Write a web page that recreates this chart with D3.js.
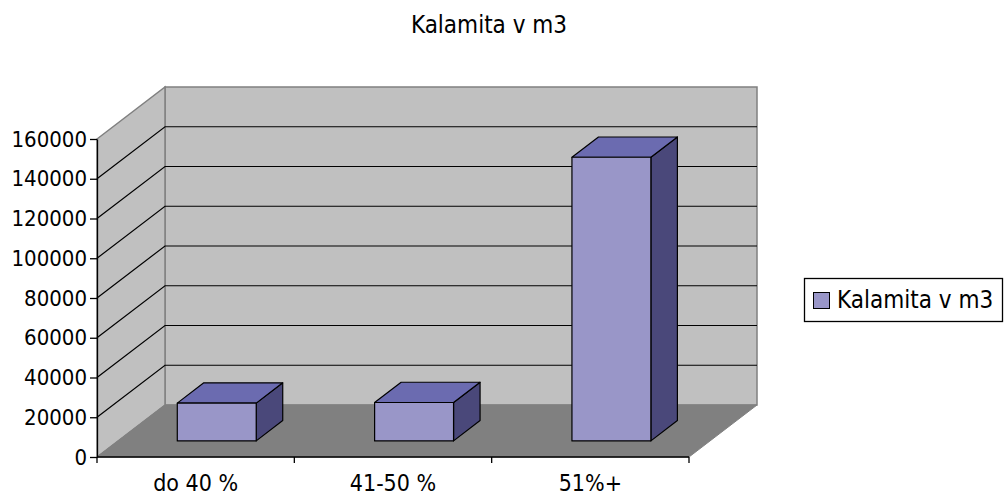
<!DOCTYPE html>
<html>
<head>
<meta charset="utf-8">
<script src="https://cdn.jsdelivr.net/npm/d3@7"></script>
<style>
  body { margin: 0; background: #fff; }
  text { font-family: "DejaVu Sans Condensed", "DejaVu Sans", sans-serif; font-stretch: condensed; fill: #000; }
</style>
</head>
<body>
<div id="graph"></div>
<script>
// chart data
var title = "Kalamita v m3";
var seriesName = "Kalamita v m3";
var categories = ["do 40 %", "41-50 %", "51%+"];
var values = [19000, 19300, 142700];
var yTicks = [0, 20000, 40000, 60000, 80000, 100000, 120000, 140000, 160000];

var w = 1005, h = 500;

// depth of the 3d box (offset of the back wall)
var DX = 68, DY = -52;
var barD0 = 0.31, barD1 = 0.70; // bar front / back as fraction of depth

var svg = d3.select("#graph").append("svg")
    .attr("width", w).attr("height", h);

var xScale = d3.scaleBand().domain(categories).range([97, 689]).padding(0);
var yScale = d3.scaleLinear().domain([0, 160000]).range([457, 139]);
var bw = xScale.bandwidth();

function pt(x, y, d) { return [x + DX * d, y + DY * d]; }
function poly(pts) { return "M" + pts.map(function(p){ return p.join(","); }).join("L") + "Z"; }

var x0 = xScale.range()[0], x1 = xScale.range()[1];
var y0 = yScale(0), yMax = yScale(160000);

// back wall
svg.append("path")
    .attr("d", poly([pt(x0, yMax, 1), pt(x1, yMax, 1), pt(x1, y0, 1), pt(x0, y0, 1)]))
    .attr("fill", "#c0c0c0").attr("stroke", "#808080").attr("stroke-width", 1.5);
// side wall
svg.append("path")
    .attr("d", poly([pt(x0, yMax, 0), pt(x0, yMax, 1), pt(x0, y0, 1), pt(x0, y0, 0)]))
    .attr("fill", "#c0c0c0").attr("stroke", "#808080").attr("stroke-width", 1.5);
// floor
svg.append("path")
    .attr("d", poly([pt(x0, y0, 0), pt(x0, y0, 1), pt(x1, y0, 1), pt(x1, y0, 0)]))
    .attr("fill", "#808080").attr("stroke", "#808080");

// gridlines on back and side walls
var inner = yTicks.filter(function(t){ return t > 0 && t < 160000; });
svg.selectAll("path.grid")
    .data(inner).enter().append("path")
    .attr("class", "grid")
    .attr("d", function(t){
      var y = yScale(t);
      return "M" + pt(x0, y, 0).join(",") + "L" + pt(x0, y, 1).join(",") + "L" + pt(x1, y, 1).join(",");
    })
    .attr("fill", "none").attr("stroke", "#000").attr("stroke-width", 1.2);

// bars
var bars = svg.selectAll("g.bar")
    .data(values).enter().append("g").attr("class", "bar");

function barX(i) { return xScale(categories[i]) + bw * 0.3; }

bars.append("path") // side
    .attr("d", function(d, i){
      var a = barX(i) + bw * 0.4, yt = yScale(d);
      return poly([pt(a, yt, barD0), pt(a, yt, barD1), pt(a, y0, barD1), pt(a, y0, barD0)]);
    })
    .attr("fill", "#4a487a").attr("stroke", "#000").attr("stroke-width", 1.2).attr("stroke-linejoin", "round");
bars.append("path") // top
    .attr("d", function(d, i){
      var a = barX(i), b = a + bw * 0.4, yt = yScale(d);
      return poly([pt(a, yt, barD0), pt(a, yt, barD1), pt(b, yt, barD1), pt(b, yt, barD0)]);
    })
    .attr("fill", "#6b6bb0").attr("stroke", "#000").attr("stroke-width", 1.2).attr("stroke-linejoin", "round");
bars.append("path") // front
    .attr("d", function(d, i){
      var a = barX(i), b = a + bw * 0.4, yt = yScale(d);
      return poly([pt(a, yt, barD0), pt(b, yt, barD0), pt(b, y0, barD0), pt(a, y0, barD0)]);
    })
    .attr("fill", "#9996c8").attr("stroke", "#000").attr("stroke-width", 1.2).attr("stroke-linejoin", "round");

// y axis
var yAxis = svg.append("g")
    .attr("transform", "translate(" + x0 + ",0)")
    .call(d3.axisLeft(yScale).tickValues(yTicks).tickSize(7).tickSizeOuter(0).tickPadding(3).tickFormat(d3.format("d")));
yAxis.select(".domain").attr("stroke", "#000").attr("stroke-width", 1.3);
yAxis.selectAll(".tick line").attr("stroke", "#000").attr("stroke-width", 1.3);
yAxis.selectAll(".tick text")
    .attr("font-size", "22px").attr("font-family", null).attr("fill", "#000");

// x axis line + ticks at category boundaries
svg.append("line")
    .attr("x1", x0).attr("x2", x1).attr("y1", y0).attr("y2", y0)
    .attr("stroke", "#000").attr("stroke-width", 1.3);
var bounds = categories.map(function(c){ return xScale(c); }).concat([x1]);
svg.selectAll("line.xtick")
    .data(bounds).enter().append("line")
    .attr("class", "xtick")
    .attr("x1", function(d){ return d; }).attr("x2", function(d){ return d; })
    .attr("y1", y0).attr("y2", y0 + 6)
    .attr("stroke", "#000").attr("stroke-width", 1.3);
svg.selectAll("text.xlab")
    .data(categories).enter().append("text")
    .attr("class", "xlab")
    .attr("x", function(d){ return xScale(d) + bw / 2; })
    .attr("y", 491)
    .attr("text-anchor", "middle")
    .attr("font-size", "23px")
    .text(function(d){ return d; });

// title
svg.append("text")
    .attr("x", 489).attr("y", 33)
    .attr("text-anchor", "middle")
    .attr("font-size", "24px")
    .text(title);

// legend
var lg = svg.append("g");
lg.append("rect")
    .attr("x", 804.5).attr("y", 278.5).attr("width", 198).attr("height", 43)
    .attr("fill", "#fff").attr("stroke", "#000").attr("stroke-width", 1.3);
lg.append("rect")
    .attr("x", 813.5).attr("y", 292.5).attr("width", 16).attr("height", 16)
    .attr("fill", "#9996c8").attr("stroke", "#000").attr("stroke-width", 1);
lg.append("text")
    .attr("x", 837).attr("y", 308)
    .attr("font-size", "24px")
    .text(seriesName);
</script>
</body>
</html>
